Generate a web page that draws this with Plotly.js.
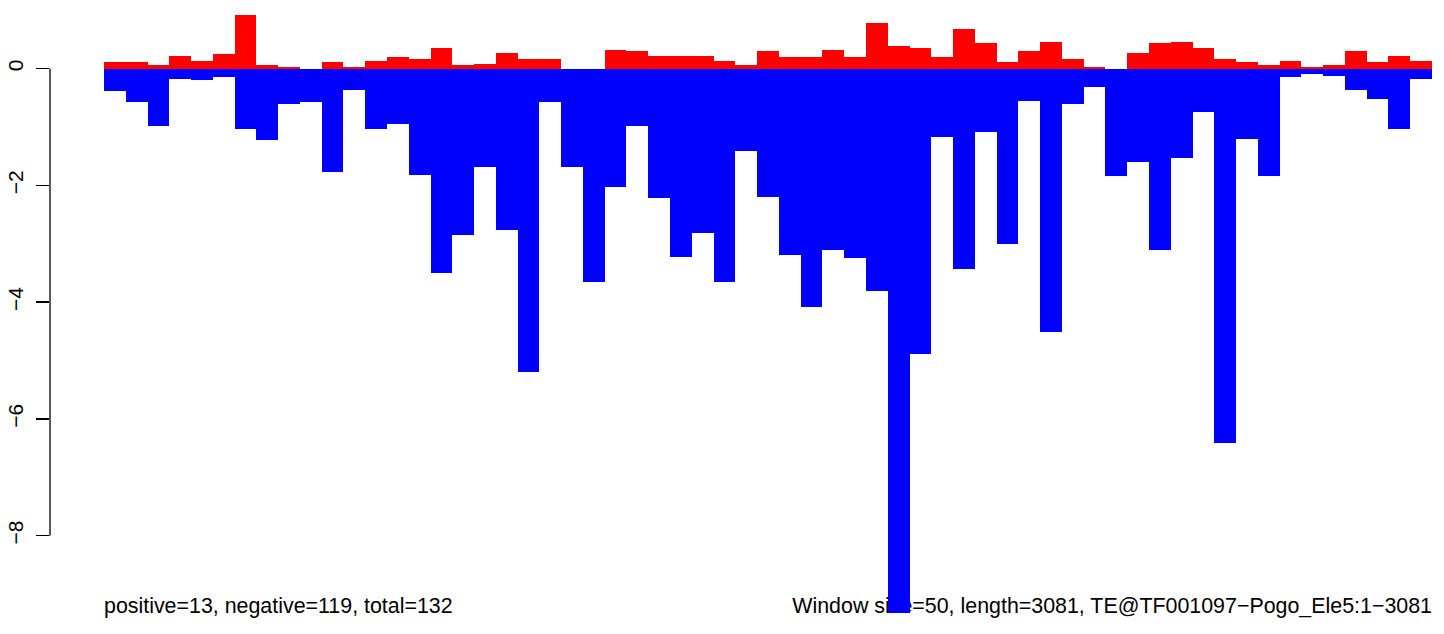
<!DOCTYPE html>
<html>
<head>
<meta charset="utf-8">
<script src="https://cdn.plot.ly/plotly-3.0.1.min.js"></script>
<style>html,body{margin:0;padding:0;background:#fff;}#chart{width:1444px;height:634px;}</style>
</head>
<body>
<div id="chart"></div>
<script>
// window index (1..61), window size 50
const windows = Array.from({length: 61}, (_, i) => i + 1);
const positiveScores = [0.11,0.11,0.06,0.21,0.13,0.25,0.92,0.06,0.03,0,
  0.11,0.03,0.13,0.20,0.16,0.35,0.06,0.08,0.27,0.16,
  0.16,0,0,0.32,0.30,0.21,0.21,0.21,0.13,0.06,
  0.30,0.20,0.20,0.32,0.20,0.78,0.39,0.35,0.20,0.68,
  0.44,0.11,0.30,0.45,0.16,0.03,0,0.27,0.44,0.45,
  0.35,0.16,0.11,0.06,0.13,0.03,0.06,0.30,0.11,0.21,
  0.13];
const negativeScores = [-0.38,-0.57,-0.98,-0.18,-0.20,-0.14,-1.03,-1.22,-0.61,-0.57,
  -1.77,-0.37,-1.03,-0.95,-1.82,-3.50,-2.85,-1.69,-2.77,-5.20,
  -0.57,-1.69,-3.66,-2.03,-0.98,-2.22,-3.23,-2.82,-3.66,-1.41,
  -2.20,-3.19,-4.08,-3.11,-3.24,-3.81,-9.32,-4.89,-1.17,-3.43,
  -1.09,-3.00,-0.56,-4.51,-0.61,-0.32,-1.84,-1.60,-3.11,-1.53,
  -0.74,-6.41,-1.21,-1.84,-0.15,-0.09,-0.13,-0.37,-0.52,-1.04,
  -0.18];
const yTickVals = [0, -2, -4, -6, -8];
const yTickText = ['0', '\u22122', '\u22124', '\u22126', '\u22128'];
const leftNote = 'positive=13, negative=119, total=132';
const rightNote = 'Window size=50, length=3081, TE@TF001097\u2212Pogo_Ele5:1\u22123081';

const xc = windows.map(w => w - 0.5);
const FONT = 'Liberation Sans, Arial, Helvetica, sans-serif';
const xRange = [-2.48, 61];
const yRange = [-9.443, 1.0017];

const traces = [
  { // notes drawn in base subplot, beneath bars
    type: 'scatter', mode: 'text', xaxis: 'x', yaxis: 'y',
    x: [0, windows.length], y: [-9.24, -9.24],
    text: [leftNote, rightNote],
    textposition: ['middle right', 'middle left'],
    textfont: {family: FONT, size: 21.4, color: '#000'},
    hoverinfo: 'skip', showlegend: false, cliponaxis: false
  },
  {
    type: 'bar', xaxis: 'x2', yaxis: 'y2',
    x: xc, y: negativeScores, width: 1,
    marker: {color: '#0000FF', line: {width: 0}},
    showlegend: false, hoverinfo: 'skip'
  },
  {
    type: 'bar', xaxis: 'x2', yaxis: 'y2',
    x: xc, y: positiveScores, width: 1,
    marker: {color: '#FF0000', line: {width: 0}},
    showlegend: false, hoverinfo: 'skip'
  }
];

const hiddenX = {range: xRange, showgrid: false, zeroline: false, showticklabels: false, ticks: '', showline: false, fixedrange: true};
const layout = {
  width: 1444, height: 634,
  margin: {l: 50, r: 12, t: 10, b: 14, pad: 0},
  paper_bgcolor: '#fff', plot_bgcolor: 'rgba(0,0,0,0)',
  barmode: 'overlay', bargap: 0,
  showlegend: false,
  font: {family: FONT, size: 21, color: '#000'},
  xaxis: Object.assign({}, hiddenX),
  yaxis: {range: yRange, showgrid: false, zeroline: false, showticklabels: false, ticks: '', showline: false},
  xaxis2: Object.assign({overlaying: 'x'}, hiddenX),
  yaxis2: {
    overlaying: 'y', side: 'left', range: yRange,
    showgrid: false, zeroline: false, showline: false,
    tickmode: 'array', tickvals: yTickVals, ticktext: yTickText,
    ticks: 'outside', ticklen: 13, tickwidth: 1.3, tickcolor: '#000',
    tickangle: -90, tickfont: {family: FONT, size: 21, color: '#000'},
    ticklabelstandoff: 5
  },
  shapes: [{
    type: 'line', xref: 'paper', yref: 'y2', x0: 0, x1: 0, y0: yTickVals[yTickVals.length-1], y1: yTickVals[0],
    line: {color: '#000', width: 1.3}, layer: 'above'
  }]
};

Plotly.newPlot('chart', traces, layout, {staticPlot: true, displayModeBar: false});
</script>
</body>
</html>
